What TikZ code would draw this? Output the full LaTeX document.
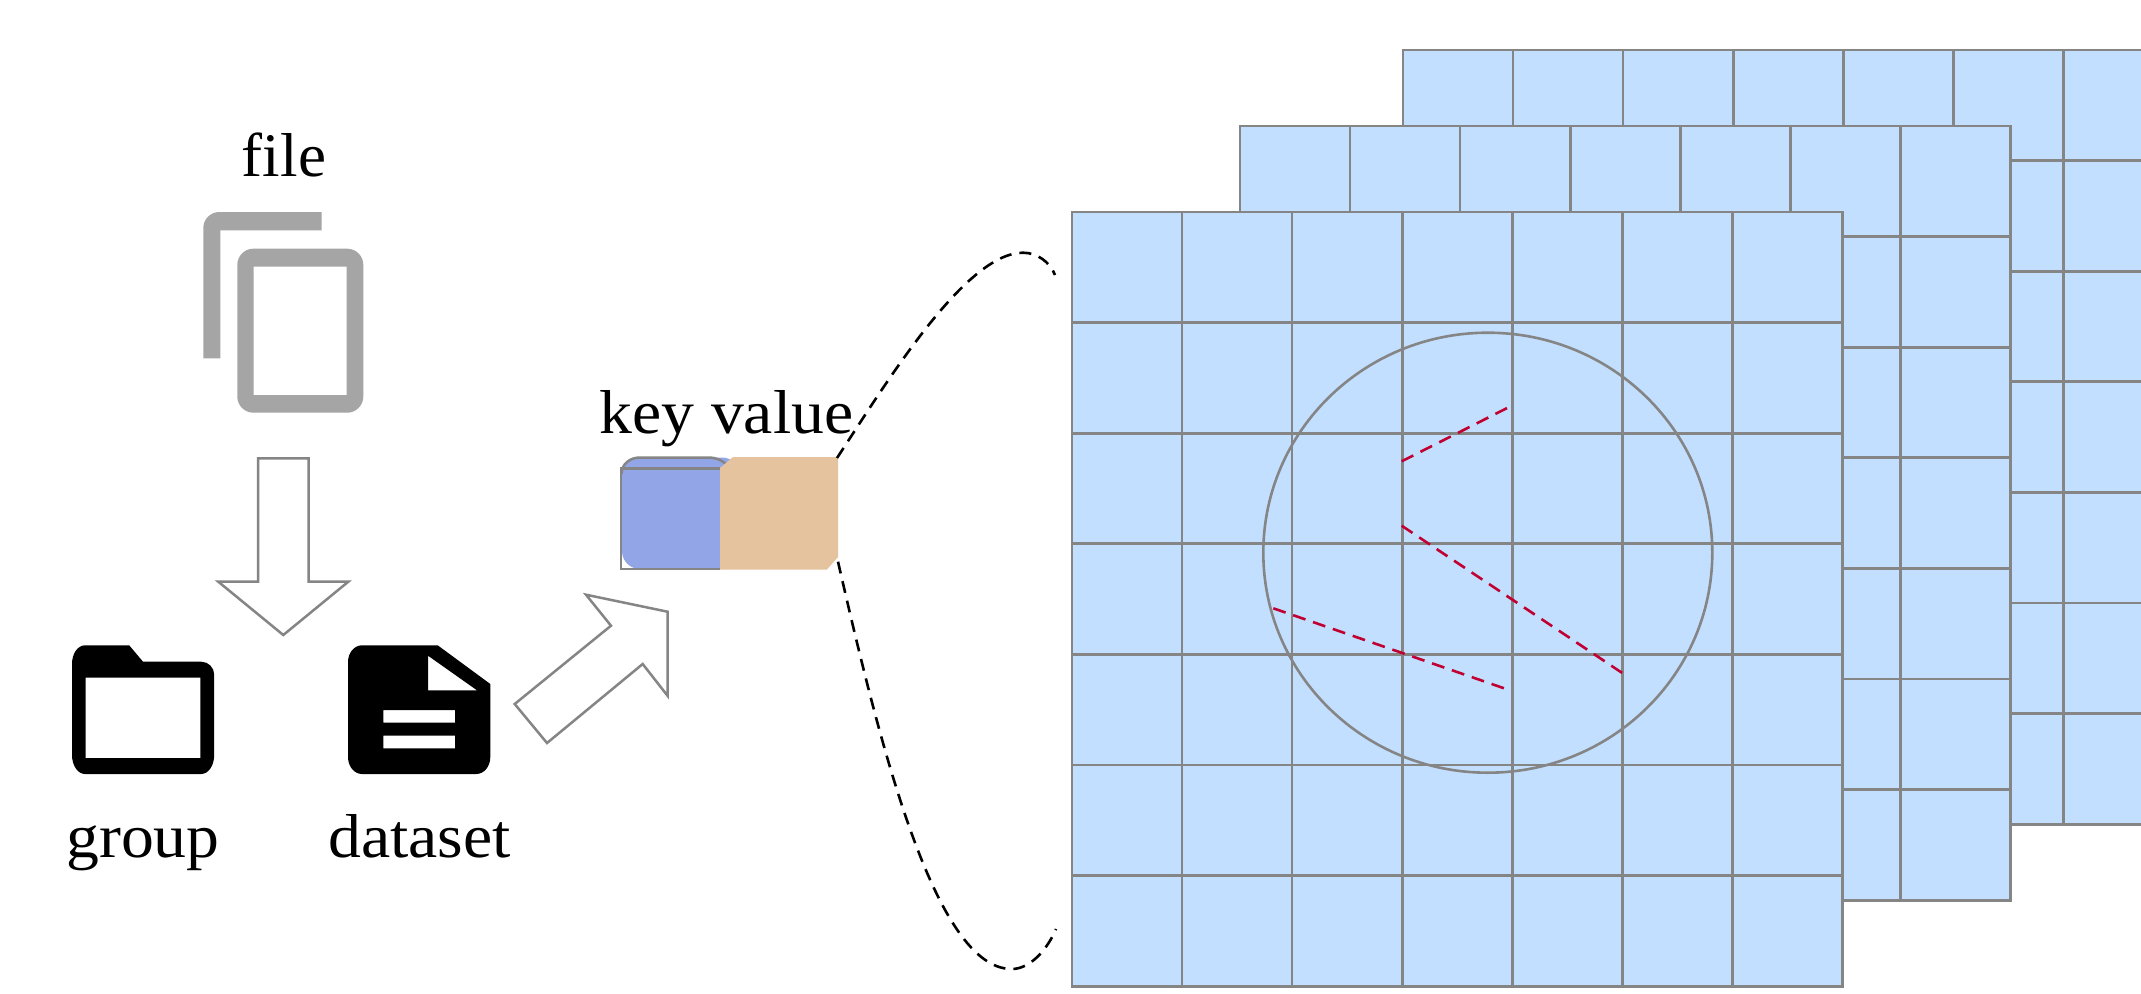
\documentclass[tikz,border=0pt]{standalone}
\usepackage{fontspec}
\usetikzlibrary{shapes.geometric}
\setmainfont{Liberation Serif}
\definecolor{cellblue}{HTML}{C2DFFF}
\definecolor{gridgray}{HTML}{858585}
\definecolor{keyblue}{HTML}{92A5E6}
\definecolor{valtan}{HTML}{E4C39E}
\definecolor{iconfile}{HTML}{A5A5A5}
\definecolor{redline}{HTML}{C00030}
\tikzset{
  gridline/.style={draw=gridgray,line width=2.7pt,line cap=rect},
  hollowarrow/.style={draw=gridgray,line width=2.5pt,line join=miter,fill=white},
  redtrace/.style={draw=redline,line width=2.6pt,dash pattern=on 13pt off 8pt},
  zoomcurve/.style={draw=black,line width=2.6pt,dash pattern=on 12pt off 8pt},
  label/.style={anchor=base,inner sep=0pt,xscale=1.06,font=\fontsize{62}{62}\selectfont},
}
\newcommand{\cellgrid}[2]{%
  \fill[cellblue] (#1,#2) rectangle ({#1+7*110.05},{#2+7*110.6});
  \foreach \k in {0,...,7}{
    \draw[gridline] ({#1+\k*110.05},#2) -- ({#1+\k*110.05},{#2+7*110.6});
    \draw[gridline] (#1,{#2+\k*110.6}) -- ({#1+7*110.05},{#2+\k*110.6});
  }
}
\begin{document}
\begin{tikzpicture}[x=1pt,y=-1pt]
\useasboundingbox (0,0) rectangle (2141,993);
\fill[white] (0,0) rectangle (2141,993);

% stacked grids
\begin{scope}
  \clip (0,0) rectangle (2141,993);
  \cellgrid{1403}{50}
  \cellgrid{1240}{126}
  \cellgrid{1072}{212}
\end{scope}

% circle and traces
\node[draw=gridgray,line width=2.6pt,ellipse,minimum width=449pt,minimum height=440pt,inner sep=0pt] (ring) at (1487.8,552.7) {};
\coordinate (a1) at (1401.7,461.3); \coordinate (a2) at (1507.7,407.7);
\coordinate (b1) at (1401.7,525.7); \coordinate (b2) at (1622.7,673.3);
\coordinate (c1) at (1273.3,608.3); \coordinate (c2) at (1509,690);
\draw[redtrace] (a1) -- (a2);
\draw[redtrace] (b1) -- (b2);
\draw[redtrace] (c1) -- (c2);

% file icon
\fill[iconfile] (321.7,212) -- (219.3,212) .. controls (210.5,212) and (203.3,219.2) .. (203.3,228) -- (203.3,358.3) -- (220.3,358.3) -- (220.3,230.3) -- (321.7,230.3) -- cycle;
\fill[iconfile,even odd rule]
  (253.3,248.7) -- (347.3,248.7) .. controls (356,248.7) and (363.3,256) .. (363.3,264.7)
  -- (363.3,396.7) .. controls (363.3,405.4) and (356,412.7) .. (347.3,412.7)
  -- (253.3,412.7) .. controls (244.6,412.7) and (237.3,405.4) .. (237.3,396.7)
  -- (237.3,264.7) .. controls (237.3,256) and (244.6,248.7) .. (253.3,248.7) -- cycle
  (253.7,266.7) rectangle (346.7,395);

% arrows
\draw[hollowarrow] (258,458.3) -- (308.7,458.3) -- (308.7,581.7) -- (348.3,581.7) -- (283.3,635) -- (218.3,581.7) -- (258,581.7) -- cycle;
\draw[hollowarrow] (514.7,704) -- (611,625.7) -- (586,594.7) -- (667.5,611.7) -- (667.5,695.7) -- (642.7,664) -- (547,743) -- cycle;

% folder icon
\fill[black,even odd rule]
  (85,645.3) -- (129.2,645.3) -- (143,661.7) -- (201.2,661.7)
  .. controls (208.4,661.7) and (214.2,667.5) .. (214.2,674.7)
  -- (214.2,755) .. controls (214.2,765.5) and (208.4,774) .. (201.2,774)
  -- (85,774) .. controls (77.8,774) and (72,765.5) .. (72,755)
  -- (72,664) .. controls (72,653.5) and (77.8,645.3) .. (85,645.3) -- cycle
  (85.5,677.7) rectangle (200.4,758);

% dataset icon
\fill[black,even odd rule]
  (362,645.3) -- (437.7,645.3) -- (490.3,684) -- (490.3,757)
  .. controls (490.3,766.5) and (484,774) .. (476.3,774)
  -- (362,774) .. controls (354.3,774) and (348,766.5) .. (348,757)
  -- (348,662) .. controls (348,652.8) and (354.3,645.3) .. (362,645.3) -- cycle
  (428,655.7) -- (477,690.3) -- (428,690.3) -- cycle
  (383.4,710) rectangle (455,722.7)
  (383.4,735.7) rectangle (455,748.3);

% key / value block
\fill[keyblue,rounded corners=18pt] (622,457.5) rectangle (740,569);
\draw[gridgray,line width=2.5pt] (720,468.7) -- (621,468.7) -- (621,569) -- (720,569);
\draw[gridgray,line width=2.5pt] (621.5,474) .. controls (621.5,464) and (630,457.5) .. (640,457.5) -- (708,457.5) .. controls (716,457.5) and (722,460) .. (727,465);
\fill[valtan] (720,468) -- (733,457) -- (838,457) -- (838,557) -- (827,569.5) -- (720,569.5) -- cycle;
\coordinate (valtop) at (837,458);
\coordinate (valbot) at (838,561.7);
\coordinate (gridtop) at (1055,275);
\coordinate (gridbot) at (1056,929);
\coordinate (peak) at (1023,252.7);
\coordinate (trough) at (1011.7,969);

% zoom curves
\draw[zoomcurve] (valtop) .. controls (885,385) and (965,252.7) .. (peak) .. controls (1037,252.7) and (1050,262) .. (gridtop);
\draw[zoomcurve] (valbot) .. controls (880,745) and (935,969) .. (trough) .. controls (1030,969) and (1047,950) .. (gridbot);

% labels
\node[label,xscale=0.96] (filelabel) at (284,176) {file};
\node[label] (grouplabel) at (143,857) {group};
\node[label] (datasetlabel) at (419.5,857) {dataset};
\node[label] (kvlabel) at (726.5,433) {key value};
\end{tikzpicture}
\end{document}
